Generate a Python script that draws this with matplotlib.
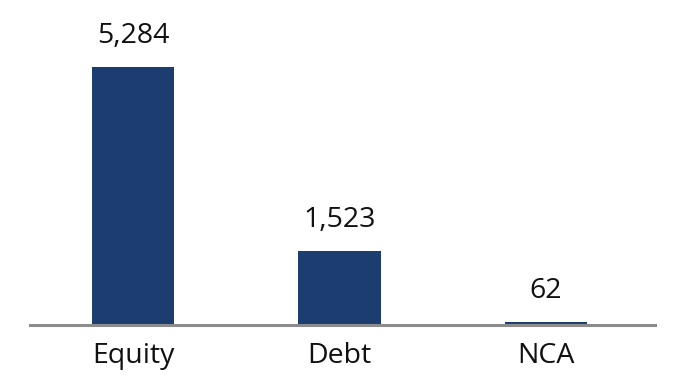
import matplotlib.pyplot as plt

categories = ['Equity', 'Debt', 'NCA']
values = [5284, 1523, 62]
value_labels = ['5,284', '1,523', '62']


def main():
	plt.rcParams['font.family'] = ['Open Sans', 'DejaVu Sans']

	fig = plt.figure(figsize=(6.81, 3.87), dpi=100)
	ax = fig.add_axes([0.044, 62 / 387, 0.918, 325 / 387])

	x = list(range(len(categories)))
	bars = ax.bar(x, values, width=0.40, color='#1b3d6f', zorder=2)

	for b, lab in zip(bars, value_labels):
		ax.annotate(lab, (b.get_x() + b.get_width() / 2, b.get_height()),
					xytext=(0, 12), textcoords='offset points',
					ha='center', va='bottom', fontsize=20.5, color='#111111')

	ax.set_xlim(-0.5, 2.53)
	ax.set_ylim(0, 5284 * 325 / 258)

	for s in ['top', 'right', 'left']:
		ax.spines[s].set_visible(False)
	ax.spines['bottom'].set_color('#8c8c8c')
	ax.spines['bottom'].set_linewidth(2.2)
	ax.spines['bottom'].set_zorder(3)

	ax.set_yticks([])
	ax.set_xticks(x)
	ax.set_xticklabels(categories, fontsize=20.5, color='#111111')
	ax.tick_params(axis='x', length=0, pad=12)

	fig.savefig('out.png', dpi=100)


if __name__ == '__main__':
	main()
